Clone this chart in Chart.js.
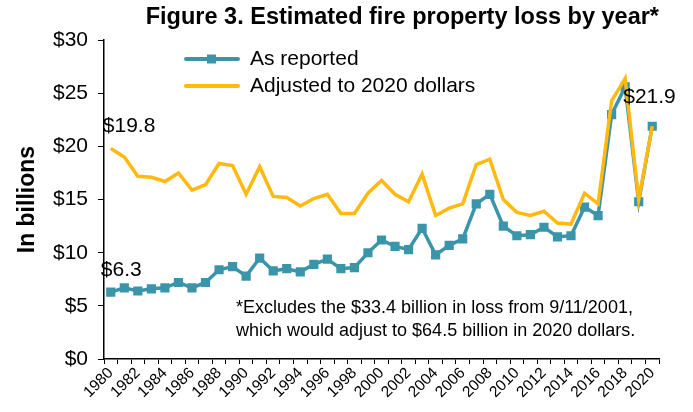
<!DOCTYPE html>
<html>
<head>
<meta charset="utf-8">
<script src="https://cdn.jsdelivr.net/npm/chart.js@4"></script>
<style>
  body { margin: 0; background: #fff; }
  #wrap { width: 693px; height: 412px; }
</style>
</head>
<body>
<div id="wrap"><canvas id="lossChart" width="693" height="412"></canvas></div>
<script>
// years on the x axis
const years = [];
for (let y = 1980; y <= 2020; y++) years.push(String(y));

// loss in billions, as reported
const asReported = [6.3, 6.7, 6.4, 6.6, 6.7, 7.2, 6.7, 7.2, 8.4, 8.7,
  7.8, 9.5, 8.3, 8.5, 8.2, 8.9, 9.4, 8.5, 8.6, 10.0,
  11.2, 10.6, 10.3, 12.3, 9.8, 10.7, 11.3, 14.6, 15.5, 12.5,
  11.6, 11.7, 12.4, 11.5, 11.6, 14.3, 13.5, 23.0, 25.6, 14.8, 21.9];

// loss in billions, adjusted to 2020 dollars
const adjusted = [19.8, 19.0, 17.2, 17.1, 16.7, 17.5, 15.9, 16.4, 18.4, 18.2,
  15.5, 18.1, 15.3, 15.2, 14.4, 15.1, 15.5, 13.7, 13.7, 15.6,
  16.8, 15.5, 14.8, 17.4, 13.5, 14.2, 14.6, 18.3, 18.8, 15.0,
  13.8, 13.5, 13.9, 12.8, 12.7, 15.6, 14.6, 24.3, 26.4, 15.0, 21.9];

const yTicks = [0, 5, 10, 15, 20, 25, 30];

const TEAL = '#3b95aa';
const GOLD = '#ffb90f';
const FONT = "'Liberation Sans', Arial, sans-serif";

// point labels and the in-chart legend / footnote
const extrasPlugin = {
  id: 'extras',
  afterDatasetsDraw(chart) {
    const c = chart.ctx;
    const xs = chart.scales.x, ys = chart.scales.y;
    c.save();
    c.fillStyle = '#000';
    c.textBaseline = 'middle';
    c.font = '21px ' + FONT;

    // value labels
    c.textAlign = 'left';
    c.fillText('$' + adjusted[0].toFixed(1), xs.getPixelForValue(0) - 8, ys.getPixelForValue(adjusted[0]) - 22);
    c.fillText('$' + asReported[0].toFixed(1), xs.getPixelForValue(0) - 10, ys.getPixelForValue(asReported[0]) - 22);
    const last = years.length - 1;
    c.fillText('$' + asReported[last].toFixed(1), xs.getPixelForValue(last) - 29, ys.getPixelForValue(asReported[last]) - 29);

    // legend
    const items = chart.data.datasets;
    const ly = [59, 86];
    items.forEach((ds, i) => {
      c.strokeStyle = ds.borderColor;
      c.lineWidth = 4;
      c.lineCap = 'round';
      c.beginPath();
      c.moveTo(186, ly[i]);
      c.lineTo(238, ly[i]);
      c.stroke();
      if (ds.pointRadius > 0) {
        c.fillStyle = ds.borderColor;
        c.fillRect(207, ly[i] - 4.5, 9, 9);
      }
      c.fillStyle = '#000';
      c.fillText(ds.label, 250, ly[i]);
    });

    // footnote
    c.font = '18px ' + FONT;
    c.fillText('*Excludes the $33.4 billion in loss from 9/11/2001,', 236, 308);
    c.fillText('which would adjust to $64.5 billion in 2020 dollars.', 236, 331);
    c.restore();
  }
};

new Chart(document.getElementById('lossChart'), {
  type: 'line',
  data: {
    labels: years,
    datasets: [
      {
        label: 'As reported',
        data: asReported,
        borderColor: TEAL,
        backgroundColor: TEAL,
        borderWidth: 3.5,
        pointStyle: 'rect',
        pointRadius: 6.5,
        pointBorderWidth: 0,
        tension: 0,
        order: 2
      },
      {
        label: 'Adjusted to 2020 dollars',
        data: adjusted,
        borderColor: GOLD,
        backgroundColor: GOLD,
        borderWidth: 3.5,
        pointRadius: 0,
        tension: 0,
        order: 1
      }
    ]
  },
  options: {
    responsive: false,
    animation: false,
    layout: { padding: { left: 0, right: 34, top: 0, bottom: 0 } },
    plugins: {
      legend: { display: false },
      tooltip: { enabled: false },
      title: {
        display: true,
        text: 'Figure 3. Estimated fire property loss by year*',
        align: 'end',
        color: '#000',
        font: { family: FONT, size: 23.5, weight: 'bold' },
        padding: { top: 3, bottom: 9 }
      }
    },
    scales: {
      x: {
        type: 'category',
        offset: true,
        grid: {
          display: true,
          offset: true,
          drawOnChartArea: false,
          drawTicks: true,
          tickLength: 5,
          color: '#000'
        },
        border: { display: true, color: '#000', width: 1.5 },
        ticks: {
          autoSkip: false,
          maxRotation: 45,
          minRotation: 45,
          padding: 0,
          color: '#000',
          font: { family: FONT, size: 15.5 },
          callback: (v, i) => (i % 2 === 0 ? years[i] : '')
        },
        afterFit: s => { s.height = 53; }
      },
      y: {
        min: 0,
        max: 30,
        afterBuildTicks: s => { s.ticks = yTicks.map(v => ({ value: v })); },
        grid: {
          display: true,
          drawOnChartArea: false,
          drawTicks: true,
          tickLength: 6,
          color: '#000'
        },
        border: { display: true, color: '#000', width: 1.5 },
        ticks: {
          padding: 10,
          color: '#000',
          font: { family: FONT, size: 21 },
          callback: v => '$' + v
        },
        title: {
          display: true,
          text: 'In billions',
          color: '#000',
          font: { family: FONT, size: 23, weight: 'bold' },
          padding: { top: 14, bottom: 0 }
        },
        afterFit: s => { s.width = 104; }
      }
    }
  },
  plugins: [extrasPlugin]
});
</script>
</body>
</html>
